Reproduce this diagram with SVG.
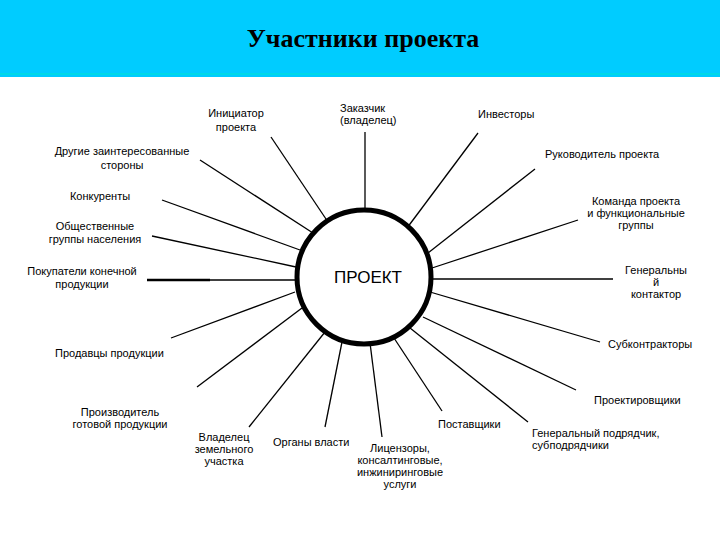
<svg xmlns="http://www.w3.org/2000/svg" width="720" height="540" viewBox="0 0 720 540">
<style>
.l{font-family:"Liberation Sans",Arial,sans-serif;font-size:11px;fill:#000}
.m{text-anchor:middle}
.c line{stroke:#000;stroke-width:1.3}
</style>
<rect width="720" height="540" fill="#fff"/>
<g id="header">
<rect x="0" y="0" width="720" height="77" fill="#00CCFF"/>
<line x1="0" y1="74" x2="720" y2="74" stroke="#00D8E8" stroke-width="2"/>
<text x="363" y="47" text-anchor="middle" font-family="Liberation Serif,serif" font-weight="bold" font-size="26">Участники проекта</text>
</g>
<g class="c" id="connectors">
<line x1="271" y1="137" x2="328" y2="222"/>
<line x1="200" y1="160" x2="313" y2="233"/>
<line x1="162" y1="200" x2="300" y2="250"/>
<line x1="152" y1="236" x2="296" y2="267"/>
<line x1="147" y1="280" x2="297" y2="280"/>
<line x1="147" y1="280" x2="210" y2="280" style="stroke-width:2.5"/>
<line x1="171" y1="338" x2="295" y2="292"/>
<line x1="197" y1="387" x2="302" y2="308"/>
<line x1="249" y1="427" x2="325" y2="332"/>
<line x1="325" y1="427" x2="342" y2="342"/>
<line x1="382" y1="437" x2="370" y2="343"/>
<line x1="442" y1="411" x2="394" y2="338"/>
<line x1="528" y1="422" x2="410" y2="328"/>
<line x1="576" y1="390" x2="423" y2="317"/>
<line x1="600" y1="342" x2="430" y2="292"/>
<line x1="613" y1="279" x2="432" y2="279"/>
<line x1="578" y1="220" x2="432" y2="268"/>
<line x1="535" y1="169" x2="428" y2="253"/>
<line x1="478" y1="133" x2="407" y2="228"/>
<line x1="365" y1="132" x2="365" y2="212"/>
</g>
<g id="project">
<circle cx="364" cy="277" r="67" fill="#fff" stroke="#000" stroke-width="5"/>
<text x="368" y="283" text-anchor="middle" font-family="Liberation Sans,Arial,sans-serif" font-size="17">ПРОЕКТ</text>
</g>
<g id="initiator"><text class="l m" x="236" y="117">Инициатор</text><text class="l m" x="236" y="131">проекта</text></g>
<g id="customer"><text class="l" x="340" y="112">Заказчик</text><text class="l" x="340" y="124">(владелец)</text></g>
<g id="investors"><text class="l" x="478" y="118">Инвесторы</text></g>
<g id="others"><text class="l m" x="122" y="155">Другие заинтересованные</text><text class="l m" x="122" y="169">стороны</text></g>
<g id="manager"><text class="l" x="545" y="158">Руководитель проекта</text></g>
<g id="competitors"><text class="l m" x="100" y="200">Конкуренты</text></g>
<g id="team"><text class="l m" x="636" y="205">Команда проекта</text><text class="l m" x="636" y="217">и функциональные</text><text class="l m" x="636" y="229">группы</text></g>
<g id="public"><text class="l m" x="95" y="230">Общественные</text><text class="l m" x="95" y="243">группы населения</text></g>
<g id="buyers"><text class="l m" x="82" y="275">Покупатели конечной</text><text class="l m" x="82" y="288">продукции</text></g>
<g id="gencontr"><text class="l m" x="656" y="274">Генеральны</text><text class="l m" x="656" y="286">й</text><text class="l m" x="656" y="298">контактор</text></g>
<g id="subcontr"><text class="l" x="608" y="348">Субконтракторы</text></g>
<g id="sellers"><text class="l" x="55" y="357">Продавцы продукции</text></g>
<g id="designers"><text class="l" x="594" y="404">Проектировщики</text></g>
<g id="producer"><text class="l m" x="120" y="416">Производитель</text><text class="l m" x="120" y="428">готовой продукции</text></g>
<g id="suppliers"><text class="l" x="438" y="428">Поставщики</text></g>
<g id="gensub"><text class="l" x="532" y="437">Генеральный подрядчик,</text><text class="l" x="532" y="449">субподрядчики</text></g>
<g id="landowner"><text class="l m" x="224" y="441">Владелец</text><text class="l m" x="224" y="453">земельного</text><text class="l m" x="224" y="465">участка</text></g>
<g id="authorities"><text class="l" x="273" y="446">Органы власти</text></g>
<g id="licensors"><text class="l m" x="400" y="452">Лицензоры,</text><text class="l m" x="400" y="464">консалтинговые,</text><text class="l m" x="400" y="476">инжиниринговые</text><text class="l m" x="400" y="488">услуги</text></g>
</svg>
